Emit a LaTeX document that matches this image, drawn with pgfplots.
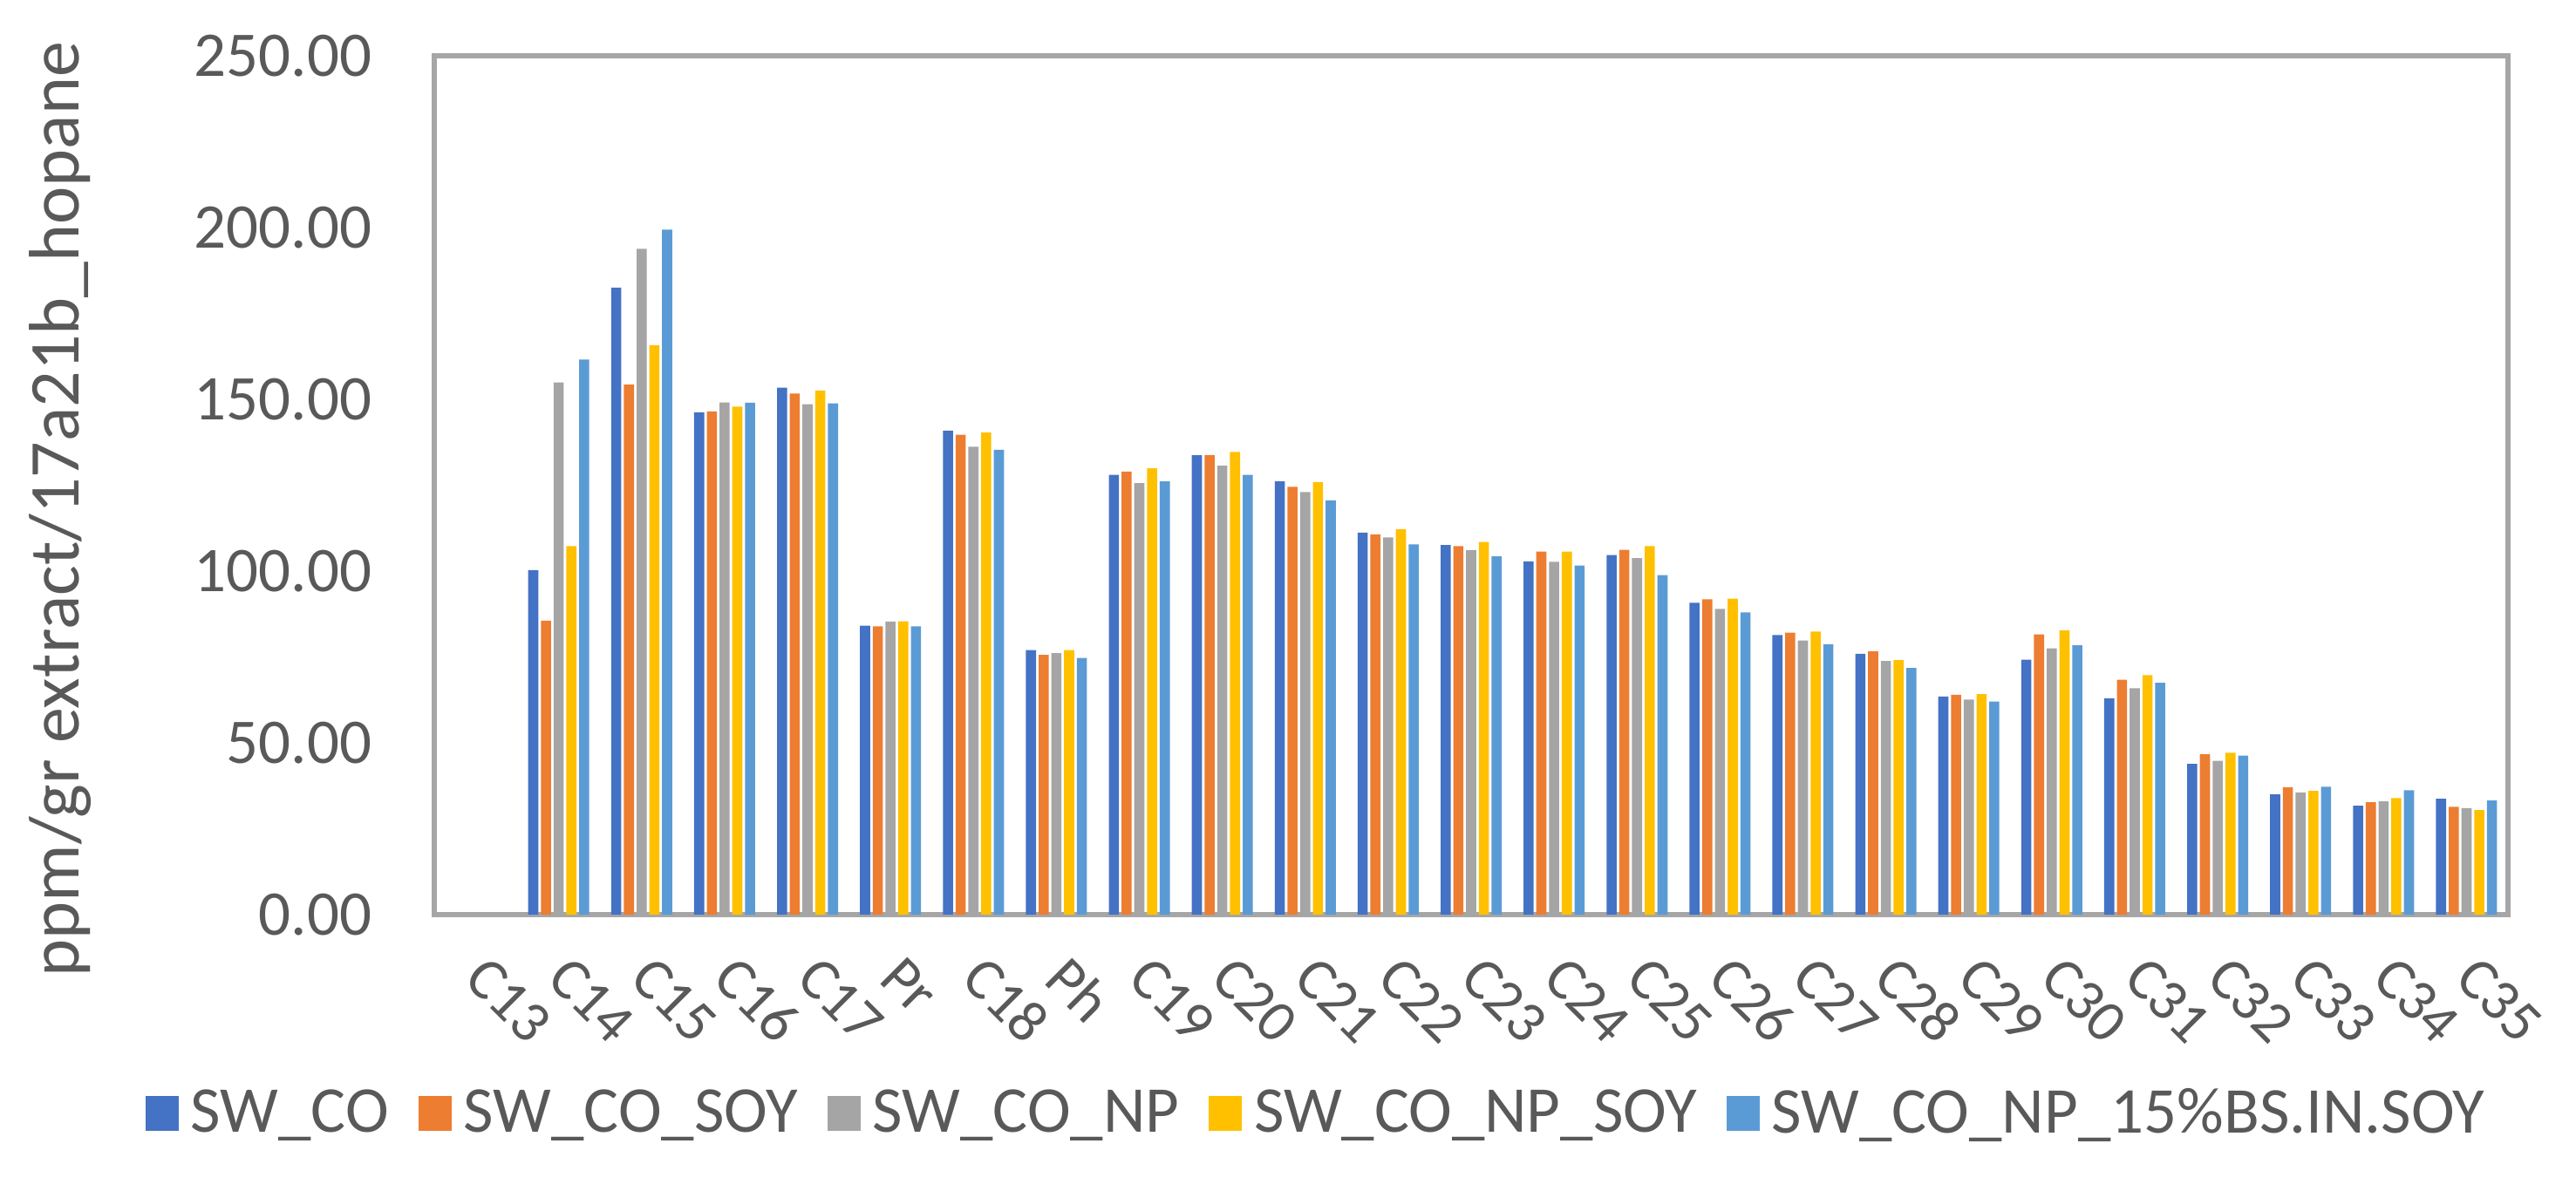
\documentclass[border=0pt]{standalone}
\usepackage{pgfplots}
\pgfplotsset{compat=1.18}
\usepackage{pgfplotstable}
\usepackage{fontspec}
\setmainfont{Carlito}
\definecolor{s1}{HTML}{4472C4}
\definecolor{s2}{HTML}{ED7D31}
\definecolor{s3}{HTML}{A5A5A5}
\definecolor{s4}{HTML}{FFC000}
\definecolor{s5}{HTML}{5B9BD5}
\definecolor{txt}{HTML}{595959}
\definecolor{frame}{HTML}{A6A6A6}

\pgfplotstableread{
x a b c d e
1 100.3 85.6 154.9 107.3 161.6
2 182.5 154.3 193.8 165.8 199.4
3 146.2 146.5 149.1 147.9 149.0
4 153.4 151.7 148.6 152.6 148.8
5 84.1 83.9 85.3 85.4 83.9
6 140.9 139.7 136.2 140.3 135.3
7 77.0 75.6 76.1 77.0 74.7
8 128.0 129.0 125.6 129.9 126.1
9 133.7 133.8 130.7 134.7 128.0
10 126.1 124.5 123.0 125.9 120.6
11 111.2 110.7 109.8 112.2 107.8
12 107.6 107.3 106.1 108.5 104.3
13 102.8 105.7 102.7 105.7 101.6
14 104.7 106.2 103.8 107.3 98.8
15 90.8 91.8 89.0 92.0 88.0
16 81.4 82.1 79.8 82.4 78.7
17 75.9 76.7 73.8 74.1 71.8
18 63.5 64.0 62.6 64.2 62.0
19 74.2 81.6 77.5 82.8 78.4
20 63.0 68.4 65.9 69.7 67.5
21 43.9 46.7 44.8 47.1 46.3
22 35.0 37.1 35.6 36.0 37.2
23 31.7 32.7 33.0 33.9 36.2
24 33.7 31.4 31.0 30.4 33.2
}\data

\begin{document}
\begin{tikzpicture}
\useasboundingbox (0,0) rectangle (738.5pt,341.25pt);
\begin{axis}[
  at={(124.5pt,79pt)}, anchor=south west,
  scale only axis, width=594.5pt, height=246.25pt,
  ybar=0.75pt, bar width=2.9pt,
  xmin=-0.5, xmax=24.5, ymin=0, ymax=250,
  xtick={0,...,24},
  xticklabels={C13,C14,C15,C16,C17,Pr,C18,Ph,C19,C20,C21,C22,C23,C24,C25,C26,C27,C28,C29,C30,C31,C32,C33,C34,C35},
  ytick={0,50,...,250},
  yticklabels={0.00,50.00,100.00,150.00,200.00,250.00},
  major tick length=0pt,
  axis line style={draw=frame, line width=1.5pt},
  yticklabel style={font=\fontsize{18.25}{22}\selectfont, color=txt, anchor=east, inner sep=0pt, xshift=-17.75pt},
  xticklabel style={font=\fontsize{17}{20}\selectfont, color=txt, rotate=-45, anchor=west, inner sep=0pt},
  xticklabel shift=15pt,
  ylabel={ppm/gr extract/17a21b\_hopane},
  ylabel style={at={(axis description cs:-0.16527,0.472)}, anchor=south, inner sep=0pt, font=\fontsize{20.5}{24}\selectfont, color=txt},
  legend style={at={(axis description cs:0.426,-0.2315)}, anchor=center, legend columns=-1, draw=none, fill=none,
    font=\fontsize{18.75}{22}\selectfont, text=txt, nodes={inner sep=1.5pt},
    /tikz/every even column/.append style={column sep=7pt},
    /tikz/every odd column/.append style={column sep=2pt}},
  legend image code/.code={\fill[#1] (0pt,-5pt) rectangle (9.5pt,5pt);},
]
\addplot[fill=s1, draw=none] table[x=x,y=a]{\data};
\addplot[fill=s2, draw=none] table[x=x,y=b]{\data};
\addplot[fill=s3, draw=none] table[x=x,y=c]{\data};
\addplot[fill=s4, draw=none] table[x=x,y=d]{\data};
\addplot[fill=s5, draw=none] table[x=x,y=e]{\data};
\legend{SW\_CO, SW\_CO\_SOY, SW\_CO\_NP, SW\_CO\_NP\_SOY, SW\_CO\_NP\_15\%BS.IN.SOY}
\end{axis}
\end{tikzpicture}
\end{document}
